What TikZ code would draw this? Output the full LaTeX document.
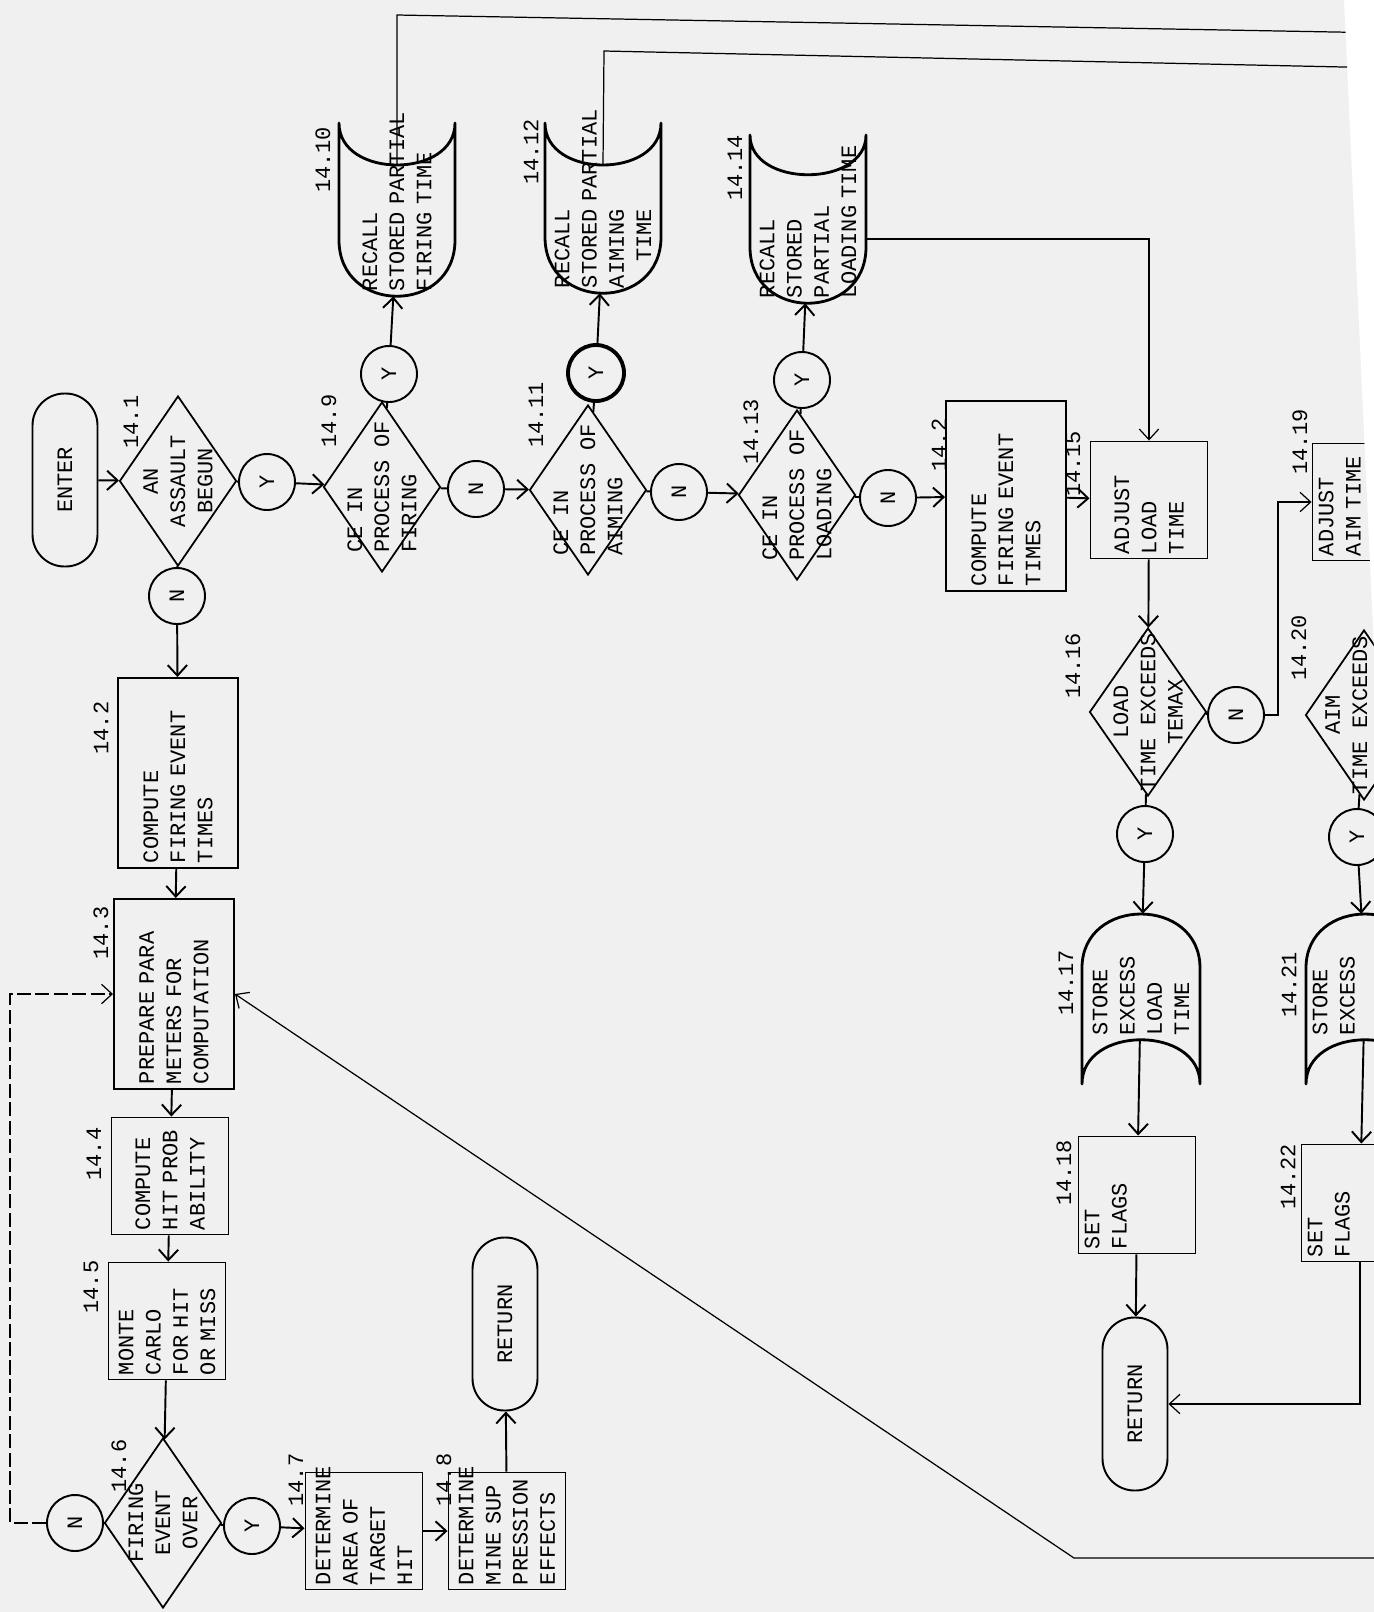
\documentclass[tikz,border=0pt]{standalone}
\usepackage{fontspec}
\setmonofont{Liberation Mono}
\usepackage{tikz}
\usetikzlibrary{arrows.meta, shapes.geometric}

\begin{document}
\begin{tikzpicture}[
  x=0.2mm, y=-0.2mm,
  typed/.style={font={\fontsize{12.5}{15.5}\selectfont\ttfamily}},
  num/.style={typed, rotate=90, inner sep=0pt},
  terminal/.style={typed, draw, line width=1.1pt, rotate=90, rounded corners=6.4mm, minimum width=34.6mm, minimum height=13mm, inner sep=0pt},
  decision/.style={draw, diamond, line width=1pt, rotate=90, minimum width=34mm, minimum height=23.4mm, inner sep=0pt},
  dtext/.style={typed, rotate=90, inner sep=0pt},
  bigbox/.style={typed, draw, line width=1.1pt, rotate=90, minimum width=38mm, minimum height=24mm, text width=36mm, inner xsep=1mm, inner ysep=0pt, align=left},
  smallbox/.style={typed, draw, line width=1.1pt, rotate=90, minimum width=23.4mm, minimum height=23.4mm, text width=21.6mm, inner xsep=0.9mm, inner ysep=0pt, align=left},
  stored/.style={typed, rotate=90, minimum height=23.4mm, inner xsep=1mm, inner ysep=0pt, align=left},
  storeline/.style={line width=1.6pt, line join=round},
  yn/.style={typed, draw, circle, line width=1.1pt, minimum size=11.2mm, inner sep=0pt, rotate=90},
  link/.style={line width=1.1pt},
  flow/.style={line width=1.1pt, -{Straight Barb[length=6pt, width=11pt]}},
  thinline/.style={line width=0.7pt},
  thinflow/.style={line width=0.7pt, -{Straight Barb[length=6pt, width=11pt]}},
]
  % Paper
  \useasboundingbox (0,0) rectangle (1374,1612);
  \fill[black!6] (0,0) -- (1344,0) -- (1374,650) -- (1374,1612) -- (0,1612) -- cycle;
  \clip (0,0) -- (1344,0) -- (1374,650) -- (1374,1612) -- (0,1612) -- cycle;

  % Top row of tests
  \node[terminal] (enter) at (65,480) {ENTER};
  \node[decision] (d141) at (178,481) {};
  \node[dtext, align=center] (d141t) at (d141) {AN\\ASSAULT\\BEGUN};
  \node[yn] (y141) at (267,482) {Y};
  \node[decision] (d149) at (382,487) {};
  \node[dtext, align=left] (d149t) at (d149) {CE IN\\PROCESS OF\\FIRING};
  \node[yn] (y149) at (389,374) {Y};
  \node[yn] (n149) at (476,489) {N};
  \node[decision] (d1411) at (588,490) {};
  \node[dtext, align=left] (d1411t) at (d1411) {CE IN\\PROCESS OF\\AIMING};
  \node[yn, line width=2.2pt] (y1411) at (596,373) {Y};
  \node[yn] (n1411) at (679,492) {N};
  \node[decision] (d1413) at (797,495) {};
  \node[dtext, align=left] (d1413t) at (d1413) {CE IN\\PROCESS OF\\LOADING};
  \node[yn] (y1413) at (802,380) {Y};
  \node[yn] (n1413) at (888,498) {N};
  \node[bigbox] (b142r) at (1006,496) {COMPUTE\\FIRING EVENT\\TIMES};
  \node[smallbox] (b1415) at (1149,500) {ADJUST\\LOAD\\TIME};

  % Recall stored partial times
  \draw[storeline] (339,123) .. controls (339,179) and (455,179) .. (455,123) -- (455,240)
    .. controls (455,315) and (339,315) .. (339,240) -- cycle;
  \node[stored, minimum width=26.2mm, text width=24.2mm] (s1410) at (397,230.5) {RECALL\\STORED~PARTIAL\\FIRING~TIME};
  \draw[storeline] (545,123) .. controls (545,179) and (661,179) .. (661,123) -- (661,237)
    .. controls (661,312) and (545,312) .. (545,237) -- cycle;
  \node[stored, minimum width=25.6mm, text width=23.6mm] (s1412) at (603,229) {RECALL\\STORED~PARTIAL\\AIMING\\\hspace*{1.2em}TIME};
  \draw[storeline] (750,135) .. controls (750,188) and (866,188) .. (866,135) -- (866,247)
    .. controls (866,322) and (750,322) .. (750,247) -- cycle;
  \node[stored, minimum width=25.6mm, text width=23.6mm] (s1414) at (808,239) {RECALL\\STORED\\PARTIAL\\LOADING~TIME};

  % Left column
  \node[yn] (n141) at (177,596) {N};
  \node[bigbox] (b142) at (178,773) {COMPUTE\\FIRING EVENT\\TIMES};
  \node[bigbox] (b143) at (174,994) {PREPARE PARA\\METERS FOR\\COMPUTATION};
  \node[smallbox] (b144) at (170,1176) {COMPUTE\\HIT~PROB\\ABILITY};
  \node[smallbox] (b145) at (167,1321) {MONTE\\CARLO\\FOR HIT\\OR MISS};
  \node[decision] (d146) at (163,1523) {};
  \node[dtext, align=center] (d146t) at (d146) {FIRING\\EVENT\\OVER};
  \node[yn] (n146) at (75,1523) {N};
  \node[yn] (y146) at (252,1526) {Y};
  \node[smallbox] (b147) at (364,1531) {DETERMINE\\AREA OF\\TARGET\\HIT};
  \node[smallbox] (b148) at (507,1531) {DETERMINE\\MINE~SUP\\PRESSION\\EFFECTS};
  \node[terminal] (ret1) at (505,1324) {RETURN};

  % Load and aim excess
  \node[decision, minimum width=33.6mm] (d1416) at (1148,712) {};
  \node[dtext, align=center] (d1416t) at (d1416) {LOAD\\TIME EXCEEDS\\TEMAX};
  \node[yn] (n1416) at (1236,715) {N};
  \node[yn] (y1416) at (1145,834) {Y};
  \draw[storeline] (1082,1084) -- (1082,968) .. controls (1082,896) and (1200,896) .. (1200,968)
    -- (1200,1084) .. controls (1200,1025) and (1082,1025) .. (1082,1084) -- cycle;
  \node[stored, minimum width=25.2mm, text width=23.2mm] (s1417) at (1141,977) {STORE\\EXCESS\\LOAD\\TIME};
  \node[smallbox] (b1418) at (1137,1195) {SET\\FLAGS\\\strut\\\strut};
  \node[terminal] (ret2) at (1135,1404) {RETURN};
  \node[smallbox] (b1419) at (1371,502) {ADJUST\\AIM~TIME\\\strut\\\strut};
  \node[decision] (d1420) at (1364,715) {};
  \node[dtext, align=center] (d1420t) at (d1420) {AIM\\TIME EXCEEDS\\\strut};
  \node[yn] (y1420) at (1357,837) {Y};
  \draw[storeline] (1306,1084) -- (1306,968) .. controls (1306,896) and (1424,896) .. (1424,968)
    -- (1424,1084) .. controls (1424,1025) and (1306,1025) .. (1306,1084) -- cycle;
  \node[stored, minimum width=25.2mm, text width=23.2mm] (s1421) at (1365,977) {STORE\\EXCESS\\\strut\\\strut};
  \node[smallbox] (b1422) at (1360,1203) {SET\\FLAGS\\\strut\\\strut};

  % Step numbers
  \foreach \lab/\x/\y [count=\i] in {14.1/131/422, 14.2/101/728, 14.3/101/933, 14.4/94/1154,
      14.5/91/1287, 14.6/119/1466, 14.7/296/1480, 14.8/444/1480, 14.9/329/421,
      14.10/323/160, 14.11/536/415, 14.12/531/152, 14.13/751/432, 14.14/735/168,
      14.2/939/445, 14.15/1073/464, 14.16/1073/666, 14.17/1066/983, 14.18/1064/1173,
      14.19/1300/442, 14.20/1299/648, 14.21/1289/985, 14.22/1288/1177} {
    \node[num] (lab\i) at (\x,\y) {\lab};
  }

  % Decision outlets
  \foreach \a/\b in {d141/y141, d141/n141, d149/y149, d149/n149, d1411/y1411, d1411/n1411,
      d1413/y1413, d1413/n1413, d146/n146, d146/y146, d1416/n1416, d1416/y1416, d1420/y1420} {
    \draw[link] (\a) -- (\b);
  }

  % Flow
  \draw[flow] (enter) -- (d141);
  \draw[flow] (y141) -- (d149);
  \draw[flow] (n149) -- (d1411);
  \draw[flow] (n1411) -- (d1413);
  \draw[flow] (n1413) -- (b142r);
  \draw[flow] (b142r) -- (b1415);
  \draw[flow] (y149) -- (s1410);
  \draw[flow] (y1411) -- (s1412);
  \draw[flow] (y1413) -- (s1414);
  \draw[flow] (n141) -- (b142);
  \draw[flow] (b142) -- (b143);
  \draw[flow] (b143) -- (b144);
  \draw[flow] (b144) -- (b145);
  \draw[flow] (b145) -- (d146);
  \draw[flow] (y146) -- (b147);
  \draw[flow] (b147) -- (b148);
  \draw[flow] (b148) -- (ret1);
  \draw[flow] (b1415) -- (d1416);
  \draw[flow] (y1416) -- (s1417);
  \draw[flow] (s1417) -- (b1418);
  \draw[flow] (b1418) -- (ret2);
  \draw[flow] (y1420) -- (s1421);
  \draw[flow] (s1421) -- (b1422);

  % Long lines
  \coordinate (k1410) at (397,15);
  \coordinate (e1410) at (1390,33);
  \coordinate (k1412) at (604,51);
  \coordinate (e1412) at (1390,68);
  \draw[thinline] (s1410.east) -- (k1410) -- (e1410);
  \draw[thinline] (s1412.east) -- (k1412) -- (e1412);
  \draw[thinflow] (s1414.south) -| (b1415);
  \coordinate (k1416) at (1278,715);
  \draw[thinflow] (n1416) -- (k1416) |- (b1419);
  \draw[thinflow] (b1422) |- (ret2);
  \coordinate (e143) at (1390,1558);
  \coordinate (k143) at (1074,1558);
  \draw[thinflow] (e143) -- (k143) -- (b143.south);
  \coordinate (k146) at (10,1523);
  \draw[thinflow, dash pattern=on 8pt off 2.5pt] (n146) -- (k146) |- (b143);
\end{tikzpicture}
\end{document}
